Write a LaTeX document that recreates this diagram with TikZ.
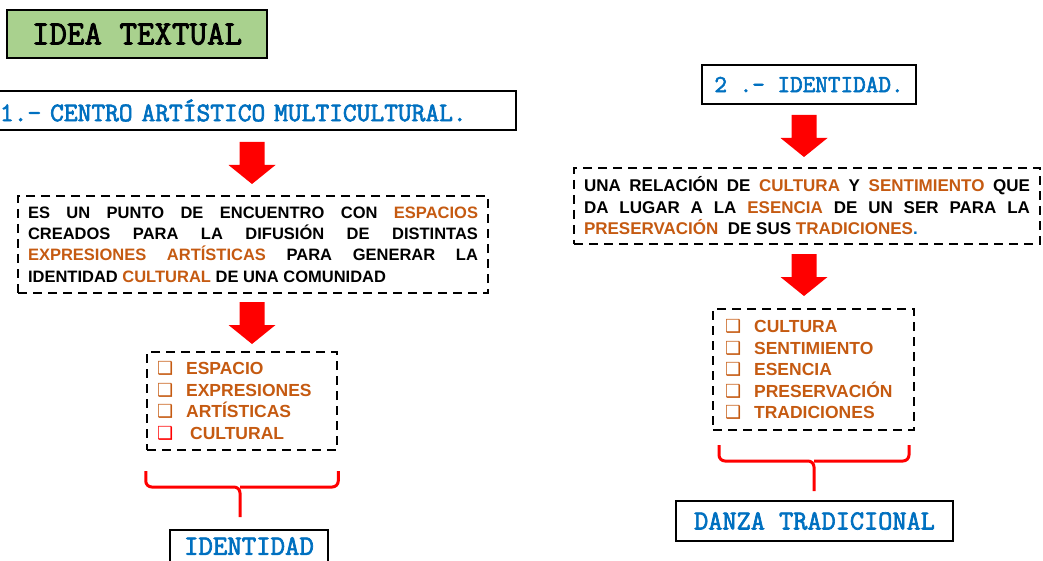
\documentclass[tikz,border=0pt]{standalone}
\usepackage{fontspec}
\setmainfont{Liberation Sans}
\newfontfamily\slab{Latin Modern Mono}[FakeBold=2.5]
\newfontfamily\dvs{DejaVu Sans}
\definecolor{tgreen}{HTML}{A9D18E}
\definecolor{tblue}{HTML}{0070C0}
\definecolor{torange}{HTML}{C55A11}
\newcommand\og[1]{\textcolor{torange}{#1}}
\newcommand\cb[1][torange]{\textcolor{#1}{\dvs\fontsize{18}{18}\selectfont ❑}}
\newcommand\blockarrow[2]{\fill[red] (#1-12.5,#2) -- (#1+12.5,#2) -- (#1+12.5,#2+23) -- (#1+23.5,#2+23) -- (#1,#2+42) -- (#1-23.5,#2+23) -- (#1-12.5,#2+23) -- cycle;}
\begin{document}
\begin{tikzpicture}[x=1pt,y=-1pt,
  headbox/.style={draw=black,line width=2.5pt,inner sep=0pt,font=\slab},
  dashbox/.style={draw=black,line width=2.5pt,dash pattern=on 9pt off 6pt,inner sep=0pt},
  body/.style={font=\bfseries\fontsize{16.5}{21.4}\selectfont},
  listf/.style={font=\bfseries\fontsize{17.5}{21.5}\selectfont},
  brace/.style={draw=red,line width=3pt,rounded corners=6pt}]
\useasboundingbox (0,0) rectangle (1043,561);
% title
\node[headbox,fill=tgreen,minimum width=260pt,minimum height=48pt,font=\slab\fontsize{34}{34}\selectfont] (title) at (137,34) {IDEA TEXTUAL};
% left column
\node[headbox,minimum width=518pt,minimum height=39pt,text width=514pt,align=left,text=tblue,font=\slab\fontsize{26.7}{26.7}\selectfont] (h1) at (257,110.5) {1.– CENTRO ARTÍSTICO MULTICULTURAL.};
\blockarrow{252}{142}
\node[dashbox,body,minimum width=470pt,minimum height=97pt,text width=450pt,align=justify] (b1) at (253,244.5) {ES UN PUNTO DE ENCUENTRO CON \og{ESPACIOS}\linebreak CREADOS PARA LA DIFUSIÓN DE DISTINTAS\linebreak \og{EXPRESIONES ARTÍSTICAS} PARA GENERAR LA\linebreak IDENTIDAD \og{CULTURAL} DE UNA COMUNIDAD};
\blockarrow{252}{302}
\node[dashbox,listf,text=torange,minimum width=190pt,minimum height=98pt,text width=170pt,align=left] (l1) at (242,401) {\cb\hspace{13pt}ESPACIO\\ \cb\hspace{13pt}EXPRESIONES\\ \cb\hspace{13pt}ARTÍSTICAS\\ \cb[red]\hspace{17pt}CULTURAL};
\coordinate (br1) at (240,517);
\draw[brace] (l1.south west |- 0,471) |- (br1 |- 0,487) -- (br1);
\draw[brace] (l1.south east |- 0,471) |- (br1 |- 0,487);
\draw[black,line width=2.5pt] (170,575) |- (328,530) -- (328,575);
\node[text=tblue,inner sep=0pt,font=\slab\fontsize{28}{28}\selectfont] (id) at (249,546) {IDENTIDAD};
% right column
\node[headbox,minimum width=214pt,minimum height=39pt,text=tblue,font=\slab\fontsize{24.5}{24.5}\selectfont] (h2) at (809,84.5) {2 .– IDENTIDAD.};
\blockarrow{804}{115}
\node[dashbox,body,minimum width=466pt,minimum height=76pt,text width=446pt,align=justify,font=\bfseries\fontsize{17}{21.5}\selectfont] (b2) at (807,206) {UNA RELACIÓN DE \og{CULTURA} Y \og{SENTIMIENTO} QUE\linebreak DA LUGAR A LA \og{ESENCIA} DE UN SER PARA LA\linebreak \og{PRESERVACIÓN}\ \ DE SUS \og{TRADICIONES}\textcolor{tblue}{.}};
\blockarrow{804}{254}
\node[dashbox,listf,text=torange,minimum width=201pt,minimum height=121pt,text width=177pt,align=left] (l2) at (813.5,369.5) {\cb\hspace{13pt}CULTURA\\ \cb\hspace{13pt}SENTIMIENTO\\ \cb\hspace{13pt}ESENCIA\\ \cb\hspace{13pt}PRESERVACIÓN\\ \cb\hspace{13pt}TRADICIONES};
\coordinate (br2) at (814,491);
\draw[brace] (719,445) |- (br2 |- 0,461) -- (br2);
\draw[brace] (909,445) |- (br2 |- 0,461);
\node[headbox,minimum width=277pt,minimum height=40pt,text=tblue,font=\slab\fontsize{27.5}{27.5}\selectfont] (dz) at (814.5,521) {DANZA TRADICIONAL};
\end{tikzpicture}
\end{document}
